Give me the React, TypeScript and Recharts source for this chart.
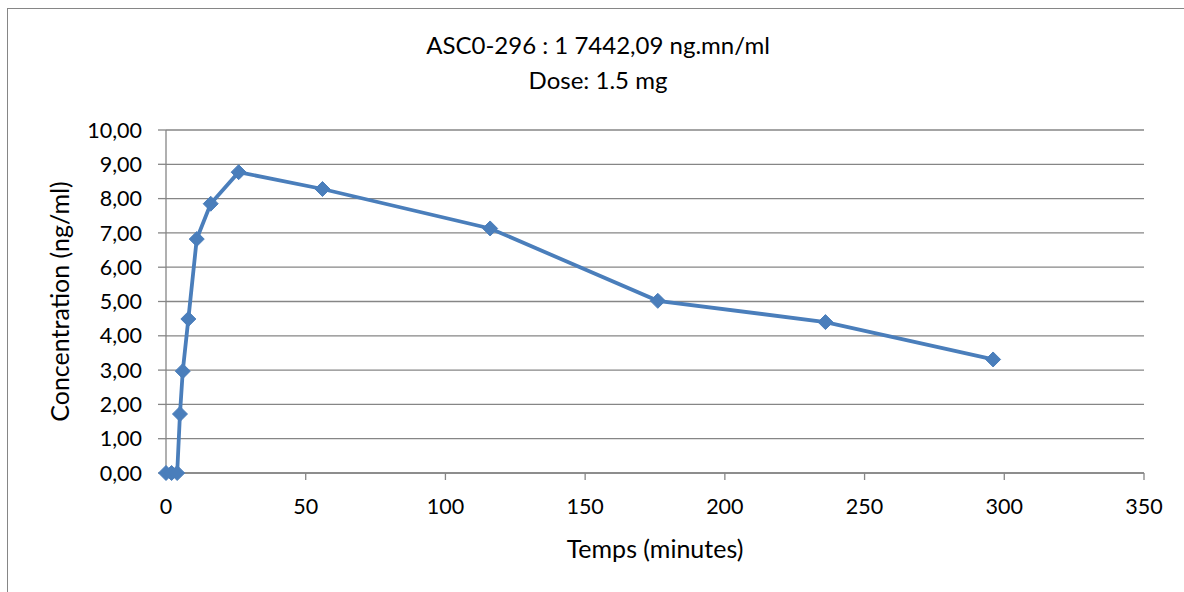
import { LineChart, Line, XAxis, YAxis, CartesianGrid, Label } from 'recharts';

const times = [0, 2, 4, 5, 6, 8, 11, 16, 26, 56, 116, 176, 236, 296];
const concentrations = [0, 0, 0, 1.72, 2.97, 4.49, 6.82, 7.85, 8.77, 8.28, 7.13, 5.02, 4.4, 3.31];
const xTicks = [0, 50, 100, 150, 200, 250, 300, 350];
const yTicks = [0, 1, 2, 3, 4, 5, 6, 7, 8, 9, 10];
const titleLines = ['ASC0-296 : 1 7442,09 ng.mn/ml', 'Dose: 1.5 mg'];

const data = times.map((t, i) => ({ t, c: concentrations[i] }));

const FONT = 'Lato, "Open Sans", sans-serif';
const AXIS_GREY = '#868686';
const BLUE = '#4a7ebb';

function Diamond(props: { cx?: number; cy?: number; index?: number }) {
  const { cx, cy, index } = props;
  if (cx == null || cy == null) return null;
  const r = 7.5;
  return (
    <polygon
      key={`d-${index}`}
      points={`${cx},${cy - r} ${cx + r},${cy} ${cx},${cy + r} ${cx - r},${cy}`}
      fill={BLUE}
      stroke={BLUE}
      strokeWidth={1}
    />
  );
}

export default function App() {
  return (
    <div style={{ position: 'absolute', left: 0, top: 0, width: 1184, height: 592, background: '#fff', overflow: 'hidden' }}>
      <div
        style={{
          position: 'absolute',
          left: 7,
          top: 8,
          width: 1190,
          height: 600,
          border: `1.5px solid ${AXIS_GREY}`,
          boxSizing: 'border-box',
        }}
      />
      <div
        style={{
          position: 'absolute',
          left: 0,
          top: 27,
          width: 1196,
          textAlign: 'center',
          fontFamily: FONT,
          fontSize: 24,
          lineHeight: '35px',
          color: '#000',
        }}
      >
        {titleLines.map((l) => (
          <div key={l}>{l}</div>
        ))}
      </div>
      <div style={{ position: 'absolute', left: 0, top: 0 }}>
        <LineChart width={1184} height={592} data={data} margin={{ top: 130, right: 40, bottom: 0, left: 0 }}>
          <CartesianGrid horizontal vertical={false} stroke={AXIS_GREY} strokeWidth={1.3} />
          <XAxis
            dataKey="t"
            type="number"
            domain={[0, 350]}
            ticks={xTicks}
            interval={0}
            stroke={AXIS_GREY}
            strokeWidth={1.3}
            tickSize={7}
            tickMargin={19}
            tick={{ fontSize: 21.5, fill: '#000', fontFamily: FONT }}
            height={119}
          >
            <Label
              value="Temps (minutes)"
              position="insideTop"
              offset={67}
              style={{ fontSize: 25, fill: '#000', fontFamily: FONT }}
            />
          </XAxis>
          <YAxis
            type="number"
            domain={[0, 10]}
            ticks={yTicks}
            interval={0}
            width={166}
            stroke={AXIS_GREY}
            strokeWidth={1.3}
            tickSize={8}
            tickMargin={16}
            tickFormatter={(v: number) => v.toFixed(2).replace('.', ',')}
            tick={{ fontSize: 21.5, fill: '#000', fontFamily: FONT }}
          >
            <Label
              value="Concentration (ng/ml)"
              angle={-90}
              position="insideLeft"
              offset={60}
              style={{ fontSize: 25, fill: '#000', fontFamily: FONT, textAnchor: 'middle' }}
            />
          </YAxis>
          <Line
            type="linear"
            dataKey="c"
            stroke={BLUE}
            strokeWidth={3.8}
            dot={<Diamond />}
            activeDot={false}
            isAnimationActive={false}
          />
        </LineChart>
      </div>
    </div>
  );
}
